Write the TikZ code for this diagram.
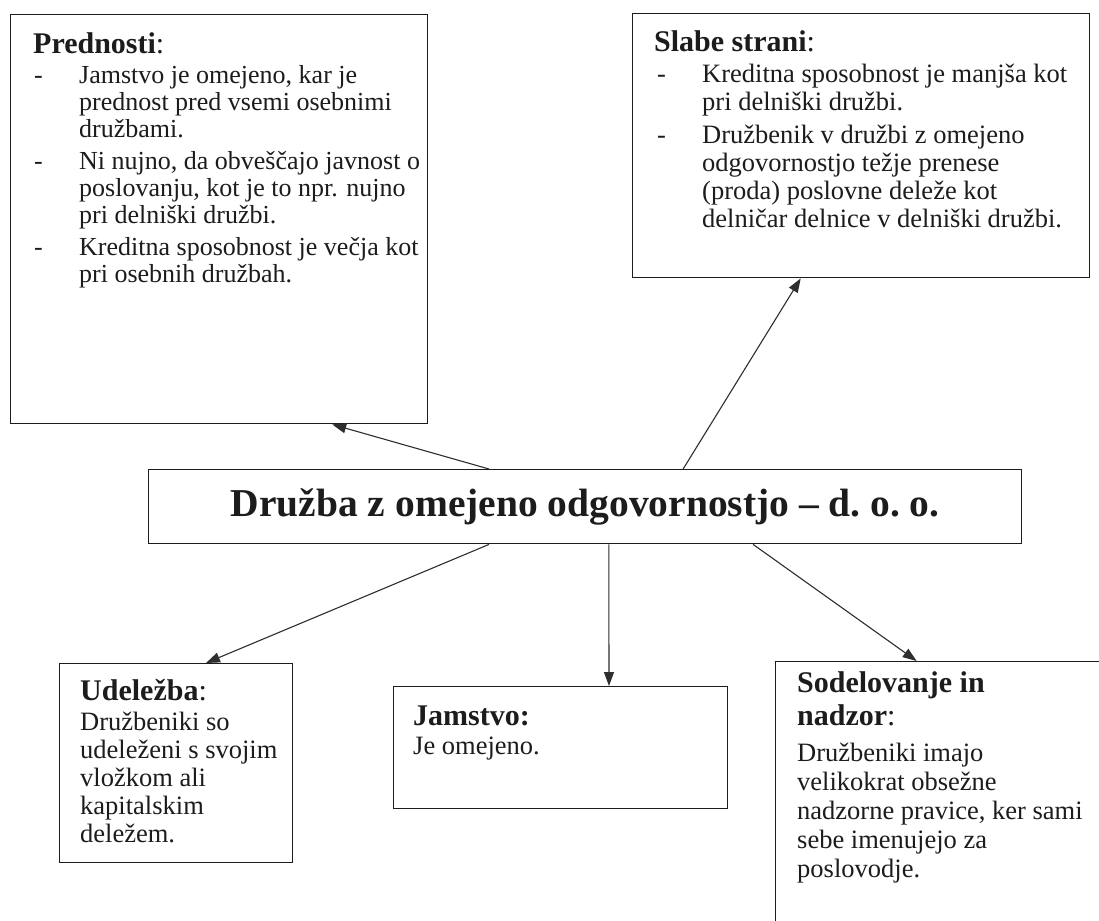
\documentclass[tikz,border=0pt]{standalone}
\usepackage{fontspec}
\setmainfont{Liberation Serif}
\usetikzlibrary{arrows.meta,calc}
\definecolor{ink}{HTML}{1C1C1C}
\definecolor{arrowink}{HTML}{2E2E2E}
\newcommand\hd[2]{{\fontsize{30}{33}\selectfont\textbf{#1}#2}}
\newcommand\ditem[2]{\par\hangindent=#2\hangafter=1\noindent\makebox[#2][l]{\hspace{#1}-}}
\begin{document}
\begin{tikzpicture}[x=1pt,y=-1pt,
  box/.style={draw=ink, line width=1.4pt, fill=white, inner sep=0pt, anchor=north west},
  txt/.style={inner sep=0pt, anchor=base west, text=ink},
  arr/.style={draw=arrowink, line width=1.1pt, -{Triangle[length=14pt,width=10pt]}}]
\useasboundingbox[fill=white] (0,0) rectangle (1099,920);

% boxes
\node[box, minimum width=417pt, minimum height=409pt] (pred) at (10,14) {};
\node[box, minimum width=457pt, minimum height=264pt] (slab) at (632,13) {};
\node[box, minimum width=873pt, minimum height=74pt, anchor=north west,
      font=\fontsize{39.5}{41}\selectfont\bfseries, text=ink] (mid) at (148,469)
      {Družba z omejeno odgovornostjo – d.\ o.\ o.};
\node[box, minimum width=233pt, minimum height=199pt] (udel) at (59,663) {};
\node[box, minimum width=334pt, minimum height=122pt] (jam) at (393,686) {};
\node[box, minimum width=360pt, minimum height=290pt] (sod) at (775,661) {};

% texts
\node[txt] (predt) at (33,54) {\parbox[t]{440pt}{\fontsize{26}{27}\selectfont
\hd{Prednosti}{:}\par\vspace{3pt}
\ditem{1pt}{46pt}Jamstvo je omejeno, kar je\newline prednost pred vsemi osebnimi\newline družbami.\par\vspace{5pt}
\ditem{1pt}{46pt}Ni nujno, da obveščajo javnost o\newline poslovanju, kot je to npr. nujno\newline pri delniški družbi.\par\vspace{5pt}
\ditem{1pt}{46pt}Kreditna sposobnost je večja kot\newline pri osebnih družbah.}};

\node[txt] (slabt) at (654,52) {\parbox[t]{440pt}{\fontsize{26.5}{28}\selectfont
\hd{Slabe strani}{:}\par\vspace{3pt}
\ditem{3pt}{48pt}Kreditna sposobnost je manjša kot\newline pri delniški družbi.\par\vspace{5pt}
\ditem{3pt}{48pt}Družbenik v družbi z omejeno\newline odgovornostjo težje prenese\newline (proda) poslovne deleže kot\newline delničar delnice v delniški družbi.}};

\node[txt] (udelt) at (80,700) {\parbox[t]{230pt}{\fontsize{26.5}{28}\selectfont
\hd{Udeležba}{:}\par\vspace{2pt}
Družbeniki so\newline udeleženi s svojim\newline vložkom ali\newline kapitalskim\newline deležem.}};

\node[txt] (jamt) at (413,725) {\parbox[t]{300pt}{\fontsize{26.5}{28}\selectfont
\hd{Jamstvo:}{}\par\vspace{1pt}
Je omejeno.}};

\node[txt] (sodt) at (797,692) {\parbox[t]{300pt}{\fontsize{26.5}{29}\selectfont
{\fontsize{30}{33}\selectfont\textbf{Sodelovanje in}\newline\textbf{nadzor}:\par}\vspace{7pt}
Družbeniki imajo\newline velikokrat obsežne\newline nadzorne pravice, ker sami\newline sebe imenujejo za\newline poslovodje.}};

% connectors
\draw[arr] ($(mid.north west)!0.390!(mid.north east)$) -- ($(pred.south west)!0.77!(pred.south east)$);
\draw[arr] ($(mid.north west)!0.612!(mid.north east)$) -- ($(slab.south west)!0.368!(slab.south east)$);
\draw[arr] ($(mid.south west)!0.390!(mid.south east)$) -- ($(udel.north west)!0.627!(udel.north east)$);
\draw[arr] ($(mid.south west)!0.527!(mid.south east)$) -- ($(jam.north west)!0.644!(jam.north east)$);
\draw[arr] ($(mid.south west)!0.692!(mid.south east)$) -- ($(sod.north west)!0.392!(sod.north east)$);
\end{tikzpicture}
\end{document}
